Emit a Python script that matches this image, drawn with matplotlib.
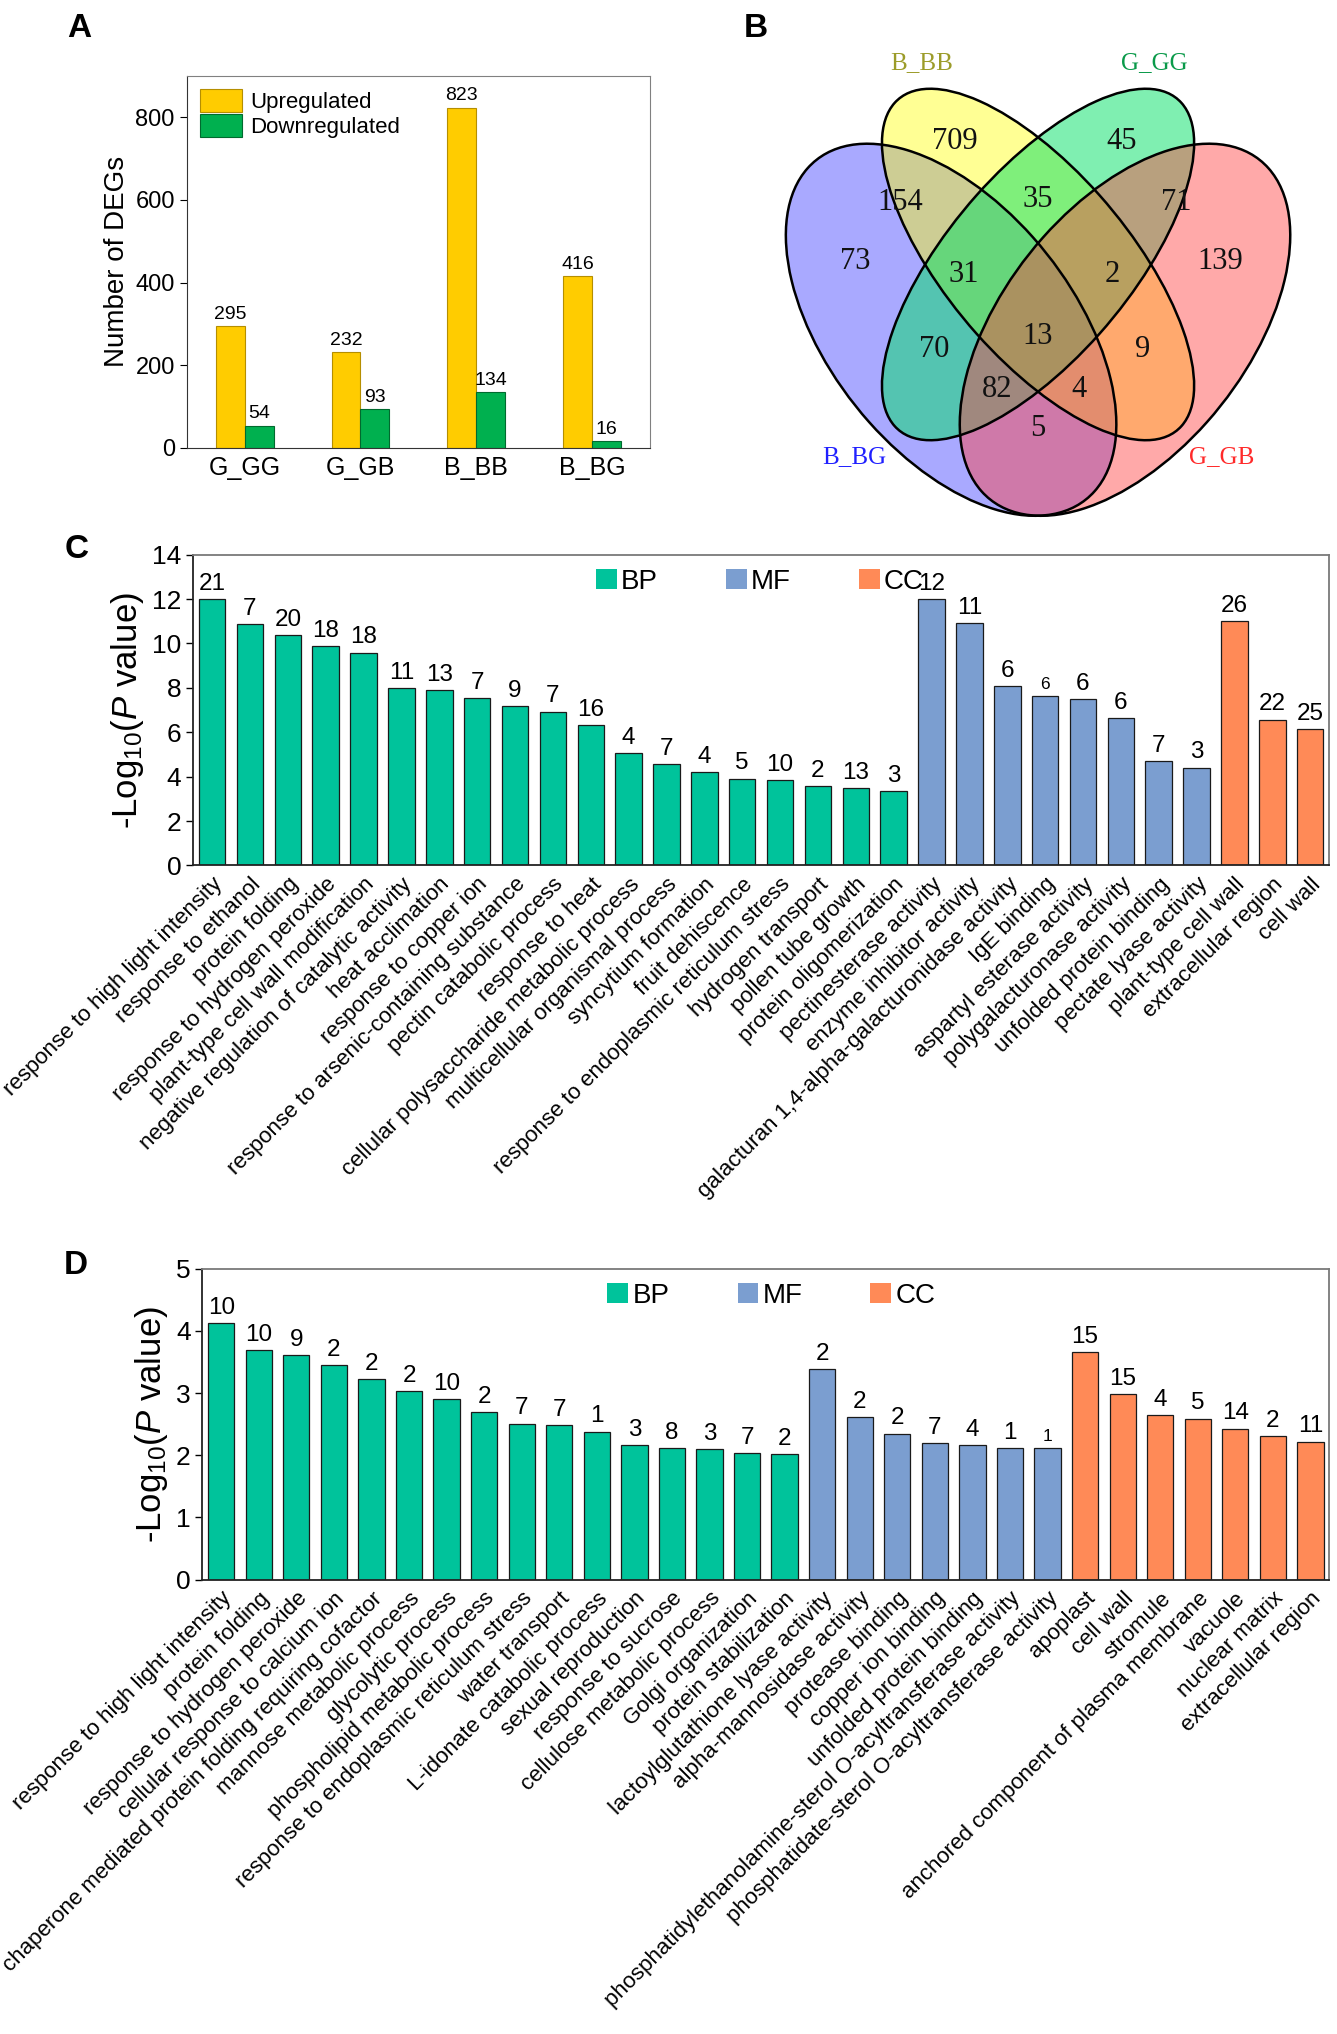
import matplotlib
matplotlib.use("Agg")
import matplotlib.pyplot as plt
from matplotlib.patches import Ellipse, Patch

plt.rcParams['font.family'] = ['Liberation Sans', 'DejaVu Sans']
plt.rcParams['mathtext.fontset'] = 'custom'
plt.rcParams['mathtext.rm'] = 'Liberation Sans'
plt.rcParams['mathtext.it'] = 'Liberation Sans:italic'

# ---- panel A: DEG counts
comparisons = ['G_GG', 'G_GB', 'B_BB', 'B_BG']
upregulated = [295, 232, 823, 416]
downregulated = [54, 93, 134, 16]

# ---- panel B: venn (set names, region counts)
venn_sets = ['B_BG', 'B_BB', 'G_GG', 'G_GB']
venn_counts = [73, 709, 45, 139, 154, 35, 71, 31, 2, 13, 70, 9, 82, 4, 5]

# ---- panel C: GO enrichment
c_bp_terms = ['response to high light intensity', 'response to ethanol', 'protein folding',
              'response to hydrogen peroxide', 'plant-type cell wall modification',
              'negative regulation of catalytic activity', 'heat acclimation',
              'response to copper ion', 'response to arsenic-containing substance',
              'pectin catabolic process', 'response to heat',
              'cellular polysaccharide metabolic process', 'multicellular organismal process',
              'syncytium formation', 'fruit dehiscence',
              'response to endoplasmic reticulum stress', 'hydrogen transport',
              'pollen tube growth', 'protein oligomerization']
c_bp_values = [12.0, 10.87, 10.39, 9.89, 9.59, 7.98, 7.91, 7.53, 7.17, 6.93, 6.32,
               5.08, 4.57, 4.22, 3.91, 3.85, 3.58, 3.49, 3.34]
c_bp_genes = [21, 7, 20, 18, 18, 11, 13, 7, 9, 7, 16, 4, 7, 4, 5, 10, 2, 13, 3]
c_mf_terms = ['pectinesterase activity', 'enzyme inhibitor activity',
              'galacturan 1,4-alpha-galacturonidase activity', 'IgE binding',
              'aspartyl esterase activity', 'polygalacturonase activity',
              'unfolded protein binding', 'pectate lyase activity']
c_mf_values = [12.0, 10.93, 8.08, 7.64, 7.5, 6.65, 4.71, 4.41]
c_mf_genes = [12, 11, 6, 6, 6, 6, 7, 3]
c_cc_terms = ['plant-type cell wall', 'extracellular region', 'cell wall']
c_cc_values = [11.02, 6.57, 6.15]
c_cc_genes = [26, 22, 25]

# ---- panel D: GO enrichment
d_bp_terms = ['response to high light intensity', 'protein folding',
              'response to hydrogen peroxide', 'cellular response to calcium ion',
              'chaperone mediated protein folding requiring cofactor',
              'mannose metabolic process', 'glycolytic process',
              'phospholipid metabolic process', 'response to endoplasmic reticulum stress',
              'water transport', 'L-idonate catabolic process', 'sexual reproduction',
              'response to sucrose', 'cellulose metabolic process', 'Golgi organization',
              'protein stabilization']
d_bp_values = [4.13, 3.69, 3.61, 3.45, 3.22, 3.03, 2.90, 2.70, 2.51, 2.49, 2.38,
               2.17, 2.11, 2.10, 2.04, 2.02]
d_bp_genes = [10, 10, 9, 2, 2, 2, 10, 2, 7, 7, 1, 3, 8, 3, 7, 2]
d_mf_terms = ['lactoylglutathione lyase activity', 'alpha-mannosidase activity',
              'protease binding', 'copper ion binding', 'unfolded protein binding',
              'phosphatidylethanolamine-sterol O-acyltransferase activity',
              'phosphatidate-sterol O-acyltransferase activity']
d_mf_values = [3.39, 2.62, 2.35, 2.19, 2.17, 2.11, 2.11]
d_mf_genes = [2, 2, 2, 7, 4, 1, 1]
d_cc_terms = ['apoplast', 'cell wall', 'stromule', 'anchored component of plasma membrane',
              'vacuole', 'nuclear matrix', 'extracellular region']
d_cc_values = [3.66, 2.99, 2.65, 2.59, 2.43, 2.31, 2.22]
d_cc_genes = [15, 15, 4, 5, 14, 2, 11]

BP_COLOR = '#00C39B'
MF_COLOR = '#7B9ED0'
CC_COLOR = '#FF8A57'

fig = plt.figure(figsize=(13.37, 20.34), dpi=100)

# panel letters
for letter, (x, y) in {'A': (0.059, 0.986), 'B': (0.565, 0.986),
                       'C': (0.057, 0.730), 'D': (0.057, 0.378)}.items():
    fig.text(x, y, letter, fontsize=24, fontweight='bold', ha='center', va='center')

# ================= A =================
axA = fig.add_axes([0.1396, 0.7798, 0.3467, 0.1829])
x = range(len(comparisons))
w = 0.25
b_up = axA.bar([i - w / 2 for i in x], upregulated, w, color='#FFCC00',
               edgecolor='#B58E00', linewidth=0.8, label='Upregulated')
b_dn = axA.bar([i + w / 2 for i in x], downregulated, w, color='#00B04F',
               edgecolor='#006A2E', linewidth=0.8, label='Downregulated')
for bars, vals in ((b_up, upregulated), (b_dn, downregulated)):
    for b, v in zip(bars, vals):
        axA.text(b.get_x() + b.get_width() / 2, v + 8, str(v), ha='center',
                 va='bottom', fontsize=14)
axA.set_xlim(-0.5, 3.5)
axA.set_ylim(0, 900)
axA.set_yticks([0, 200, 400, 600, 800])
axA.set_xticks(list(x))
axA.set_xticklabels(comparisons, fontsize=18)
axA.tick_params(axis='y', labelsize=17, direction='out', length=5)
axA.tick_params(axis='x', length=0, pad=6)
axA.set_ylabel('Number of DEGs', fontsize=20)
for s in axA.spines.values():
    s.set_color('#808080')
axA.spines['left'].set_color('#333333')
axA.spines['bottom'].set_color('#333333')
axA.legend(loc='upper left', fontsize=16, frameon=False, handlelength=1.9,
           handleheight=1.2, handletextpad=0.35, borderaxespad=0.2, labelspacing=0.05)

# ================= B =================
axB = fig.add_axes([0.5596, 0.7352, 0.4336, 0.2567])
axB.set_xlim(0, 1)
axB.set_ylim(0.15, 0.95)
axB.axis('off')

ell_geom = [((0.35, 0.47), 0.35, 0.20, 135),   # B_BG
            ((0.50, 0.57), 0.35, 0.15, 135),   # B_BB
            ((0.50, 0.57), 0.35, 0.15, 45),    # G_GG
            ((0.65, 0.47), 0.35, 0.20, 45)]    # G_GB
fill_colors = ['#4040FF', '#FFFF00', '#00E064', '#FF4040']
fill_alpha = [0.45, 0.42, 0.5, 0.45]
for (c, a, b, ang), fc, al in zip(ell_geom, fill_colors, fill_alpha):
    axB.add_patch(Ellipse(c, 2 * a, 2 * b, angle=ang, facecolor=fc, alpha=al,
                          edgecolor='none'))
for (c, a, b, ang) in ell_geom:
    axB.add_patch(Ellipse(c, 2 * a, 2 * b, angle=ang, facecolor='none',
                          edgecolor='black', linewidth=1.8))

region_pos = [(0.185, 0.575), (0.356, 0.759), (0.644, 0.759), (0.815, 0.575),
              (0.262, 0.665), (0.50, 0.669), (0.738, 0.665), (0.372, 0.555),
              (0.628, 0.555), (0.50, 0.459), (0.32, 0.439), (0.68, 0.439),
              (0.43, 0.379), (0.57, 0.379), (0.50, 0.319)]
for n, (px, py) in zip(venn_counts, region_pos):
    axB.text(px, py, str(n), ha='center', va='center', fontsize=22,
             family='Liberation Serif', color='#111111')

set_label_pos = [(0.183, 0.275), (0.30, 0.879), (0.70, 0.879), (0.817, 0.275)]
set_label_col = ['#2020FF', '#9C9C2A', '#0A9A4A', '#FF2A2A']
for name, (px, py), col in zip(venn_sets, set_label_pos, set_label_col):
    axB.text(px, py, name, ha='center', va='center', fontsize=18,
             family='Liberation Serif', color=col)


# ================= C & D =================
def go_panel(ax, groups, ymax, yticks, small_labels, legend_x):
    names, vals, genes, cols = [], [], [], []
    for terms, values, counts, col in groups:
        names += terms
        vals += values
        genes += counts
        cols += [col] * len(terms)
    xs = range(len(names))
    bars = ax.bar(xs, vals, 0.7, color=cols, edgecolor='#1a1a1a', linewidth=0.9)
    for i, (b, g) in enumerate(zip(bars, genes)):
        ax.annotate(str(g), (b.get_x() + b.get_width() / 2, b.get_height()),
                    xytext=(0, 3), textcoords='offset points', ha='center',
                    va='bottom', fontsize=12.5 if i in small_labels else 17.5)
    ax.set_xlim(-0.5, len(names) - 0.5)
    ax.set_ylim(0, ymax)
    ax.set_yticks(yticks)
    ax.set_xticks(list(xs))
    ax.set_xticklabels(names, rotation=45, ha='right', va='top',
                       rotation_mode='anchor', fontsize=16)
    ax.tick_params(axis='x', length=0, pad=6)
    ax.tick_params(axis='y', labelsize=19, direction='out', length=5, width=1)
    ax.set_ylabel(r'-Log$_{10}$($\mathit{P}$ value)', fontsize=25, labelpad=4)
    for s in ax.spines.values():
        s.set_color('#7a7a7a')
        s.set_linewidth(1.3)
    ax.spines['left'].set_color('#222222')
    ax.spines['bottom'].set_color('#222222')
    handles = [Patch(facecolor=BP_COLOR, label='BP'), Patch(facecolor=MF_COLOR, label='MF'),
               Patch(facecolor=CC_COLOR, label='CC')]
    ax.legend(handles=handles, loc='upper center', bbox_to_anchor=(legend_x, 1.0), ncol=3,
              frameon=False, fontsize=20, handlelength=0.75, handleheight=0.75,
              handletextpad=0.15, columnspacing=2.45, borderaxespad=0.1)


axC = fig.add_axes([0.1445, 0.5745, 0.8496, 0.1528])
go_panel(axC, [(c_bp_terms, c_bp_values, c_bp_genes, BP_COLOR),
               (c_mf_terms, c_mf_values, c_mf_genes, MF_COLOR),
               (c_cc_terms, c_cc_values, c_cc_genes, CC_COLOR)],
         14, range(0, 15, 2), {22}, 0.499)

axD = fig.add_axes([0.1514, 0.2234, 0.8428, 0.1528])
go_panel(axD, [(d_bp_terms, d_bp_values, d_bp_genes, BP_COLOR),
               (d_mf_terms, d_mf_values, d_mf_genes, MF_COLOR),
               (d_cc_terms, d_cc_values, d_cc_genes, CC_COLOR)],
         5, range(0, 6), {22}, 0.505)

fig.savefig('out.png', dpi=100, facecolor='white')
